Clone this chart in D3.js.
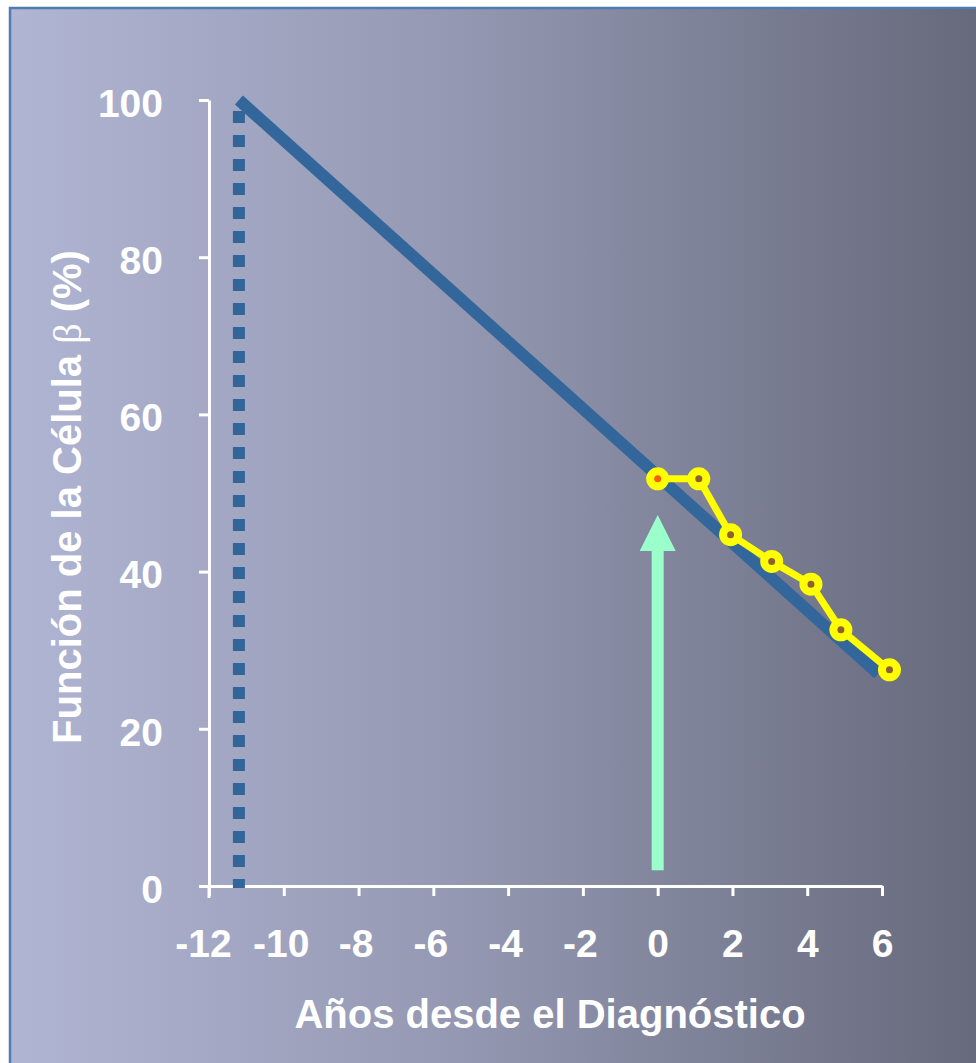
<!DOCTYPE html>
<html>
<head>
<meta charset="utf-8">
<script src="https://cdn.jsdelivr.net/npm/d3@7"></script>
<style>
  html, body { margin: 0; padding: 0; background: #ffffff; }
  svg { display: block; }
  text { font-family: "Liberation Sans", Arial, sans-serif; font-weight: bold; fill: #ffffff; }
</style>
</head>
<body>
<svg id="chart" width="976" height="1063"></svg>
<script>
// ---- data ----
const xTicks = [-12, -10, -8, -6, -4, -2, 0, 2, 4, 6];
const yTicks = [0, 20, 40, 60, 80, 100];
const years = [0, 1.1, 1.95, 3.05, 4.1, 4.9, 6.2];
const betaFunction = [51.8, 51.8, 44.7, 41.3, 38.4, 32.6, 27.5];
const trendYears = [-11.2, 5.9];
const trendValues = [100, 27];
const onsetYear = -11.2;           // dotted vertical line
const diagnosisYear = 0;           // green arrow
const arrowRange = [2, 47.2];
const xTitle = "Años desde el Diagnóstico";
const yTitleMain = "Función de la Célula ";
const yTitleSymbol = "β";
const yTitleEnd = " (%)";

// ---- setup ----
const svg = d3.select("#chart");
const W = 976, H = 1063;

const defs = svg.append("defs");
const grad = defs.append("linearGradient").attr("id", "bg")
  .attr("x1", "0%").attr("x2", "100%").attr("y1", "0%").attr("y2", "0%");
grad.append("stop").attr("offset", "0%").attr("stop-color", "#b0b5d3");
grad.append("stop").attr("offset", "45%").attr("stop-color", "#9599b3");
grad.append("stop").attr("offset", "100%").attr("stop-color", "#676a7c");

svg.append("rect").attr("x", 9).attr("y", 7).attr("width", W - 9).attr("height", H - 7)
  .attr("fill", "url(#bg)");
svg.append("path").attr("d", `M10,${H} V8 H${W}`)
  .attr("fill", "none").attr("stroke", "#4f7db2").attr("stroke-width", 2.5);

const x = d3.scaleLinear().domain([-12, 6]).range([209, 882]);
const y = d3.scaleLinear().domain([0, 100]).range([886, 100]);

// ---- axes ----
const yAxis = svg.append("g").attr("transform", `translate(${x(-12)},0)`)
  .call(d3.axisLeft(y).tickValues(yTicks).tickSize(10).tickSizeOuter(0).tickPadding(0).tickFormat(d3.format("d")));
const xAxis = svg.append("g").attr("transform", `translate(0,${y(0)})`)
  .call(d3.axisBottom(x).tickValues(xTicks).tickSize(10).tickSizeOuter(0).tickPadding(0).tickFormat(d3.format("d")));

[yAxis, xAxis].forEach(g => {
  g.select(".domain").attr("stroke", "#ffffff").attr("stroke-width", 3);
  g.selectAll(".tick line").attr("stroke", "#ffffff").attr("stroke-width", 3);
  g.selectAll(".tick text").attr("fill", "#ffffff")
    .style("font-family", '"Liberation Sans", Arial, sans-serif')
    .style("font-weight", "bold").style("font-size", "39px");
});
yAxis.attr("font-size", null).attr("font-family", null);
xAxis.attr("font-size", null).attr("font-family", null);
yAxis.selectAll(".tick text").attr("x", -46).attr("dy", "0.42em");
xAxis.selectAll(".tick text").attr("y", 43).attr("dy", "0.71em")
  .text(d => d < 0 ? "-" + Math.abs(d) : d)
  .attr("dx", d => d === -12 ? -6 : (d < 0 ? -3 : 0));

// extend y-axis slightly below the x-axis
svg.append("line").attr("x1", x(-12)).attr("x2", x(-12))
  .attr("y1", y(0)).attr("y2", y(0) + 12)
  .attr("stroke", "#fff").attr("stroke-width", 3);

// ---- dotted onset line ----
svg.append("line")
  .attr("x1", x(onsetYear)).attr("x2", x(onsetYear))
  .attr("y1", y(100)).attr("y2", y(0) + 2)
  .attr("stroke", "#32669a").attr("stroke-width", 12)
  .attr("stroke-dasharray", "12 12").attr("stroke-dashoffset", 13);

// ---- trend line ----
svg.append("path")
  .datum(trendYears.map((d, i) => [d, trendValues[i]]))
  .attr("d", d3.line().x(d => x(d[0])).y(d => y(d[1])))
  .attr("fill", "none").attr("stroke", "#33679c").attr("stroke-width", 12);

// ---- arrow ----
const ax = x(diagnosisYear);
const aBottom = y(arrowRange[0]), aTip = y(arrowRange[1]);
svg.append("rect").attr("x", ax - 6).attr("width", 12)
  .attr("y", aTip + 34).attr("height", aBottom - aTip - 34)
  .attr("fill", "#9bffcc");
svg.append("path")
  .attr("d", `M${ax},${aTip} L${ax + 18},${aTip + 36} L${ax - 18},${aTip + 36} Z`)
  .attr("fill", "#9bffcc");

// ---- observed data ----
const pts = years.map((d, i) => [d, betaFunction[i]]);
svg.append("path").datum(pts)
  .attr("d", d3.line().x(d => x(d[0])).y(d => y(d[1])))
  .attr("fill", "none").attr("stroke", "#ffff00").attr("stroke-width", 7)
  .attr("stroke-linejoin", "round");
svg.selectAll("circle.pt").data(pts).join("circle").attr("class", "pt")
  .attr("cx", d => x(d[0])).attr("cy", d => y(d[1]))
  .attr("r", 7.5)
  .attr("fill", (d, i) => i === 0 ? "#ff5a10" : "#8e5f36")
  .attr("stroke", "#ffff00").attr("stroke-width", 8);

// ---- titles ----
svg.append("text").attr("x", 550).attr("y", 1028)
  .attr("text-anchor", "middle").style("font-size", "40px").text(xTitle);

const yt = svg.append("text")
  .attr("transform", "translate(81,497) rotate(-90)")
  .attr("text-anchor", "middle").style("font-size", "40px");
yt.append("tspan").text(yTitleMain);
yt.append("tspan").style("font-family", '"Liberation Serif", "DejaVu Serif", serif')
  .style("font-weight", "normal").text(yTitleSymbol);
yt.append("tspan").text(yTitleEnd);
</script>
</body>
</html>
